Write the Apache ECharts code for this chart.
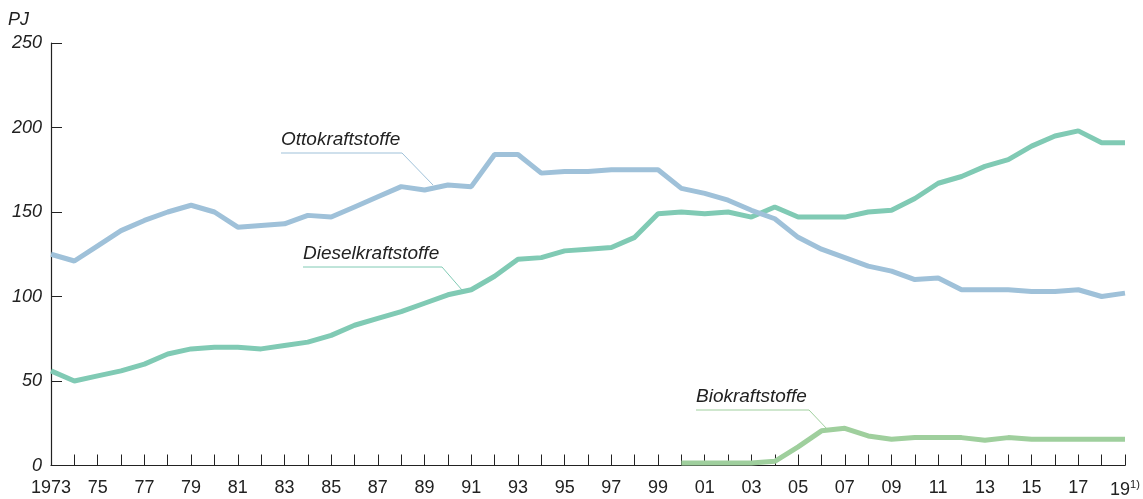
<!DOCTYPE html>
<html>
<head>
<meta charset="utf-8">
<script src="https://cdn.jsdelivr.net/npm/echarts@6/dist/echarts.min.js"></script>
<style>
  html, body { margin: 0; padding: 0; background: #fff; }
  #chart { width: 1143px; height: 499px; }
</style>
</head>
<body>
<div id="chart"></div>
<script>
// Kraftstoffverbrauch in PJ, 1973 - 2019
const years = [];
for (let y = 1973; y <= 2019; y++) years.push(String(y));

const otto = [125, 121, 130, 139, 145, 150, 154, 150, 141, 142,
  143, 148, 147, 153, 159, 165, 163, 166, 165, 184,
  184, 173, 174, 174, 175, 175, 175, 164, 161, 157,
  151, 146, 135, 128, 123, 118, 115, 110, 111, 104,
  104, 104, 103, 103, 104, 100, 102];

const diesel = [56, 50, 53, 56, 60, 66, 69, 70, 70, 69,
  71, 73, 77, 83, 87, 91, 96, 101, 104, 112,
  122, 123, 127, 128, 129, 135, 149, 150, 149, 150,
  147, 153, 147, 147, 147, 150, 151, 158, 167, 171,
  177, 181, 189, 195, 198, 191, 191];

const bio = [null, null, null, null, null, null, null, null, null, null,
  null, null, null, null, null, null, null, null, null, null,
  null, null, null, null, null, null, null, 1.5, 1.5, 1.5,
  1.5, 2.5, 11, 20.5, 22, 17.5, 15.5, 16.5, 16.5, 16.5,
  15, 16.5, 15.5, 15.5, 15.5, 15.5, 15.5];

const yTicks = [0, 50, 100, 150, 200, 250];

const FONT = '"Liberation Sans", Arial, sans-serif';
const TXT = '#222';

const chart = echarts.init(document.getElementById('chart'));

function note(text, x, y, x2, px, py, color) {
  return [
    {
      type: 'text', left: x, top: y - 12,
      style: { text: text, font: 'italic 19px ' + FONT, fill: TXT }
    },
    {
      type: 'polyline',
      shape: { points: [[x, y + 11], [x2, y + 11], [px, py]] },
      style: { stroke: color, lineWidth: 1, fill: null }
    }
  ];
}

const option = {
  animation: false,
  textStyle: { fontFamily: FONT },
  grid: { left: 51, right: 18, top: 43, bottom: 31, containLabel: false },
  xAxis: {
    type: 'category',
    boundaryGap: false,
    data: years,
    axisLine: { lineStyle: { color: TXT, width: 1.2 } },
    axisTick: { inside: true, length: 11, interval: 0, lineStyle: { color: TXT } },
    axisLabel: {
      interval: 1,
      margin: 14,
      fontSize: 18,
      color: TXT,
      formatter: function (v) {
        if (v === '1973') return v;
        if (v === '2019') return v.slice(2) + '{sup|1)}';
        return v.slice(2);
      },
      rich: {
        sup: { fontSize: 11, color: TXT, padding: [0, 0, 10, 0] }
      }
    },
    splitLine: { show: false }
  },
  yAxis: {
    type: 'value',
    min: 0,
    max: 250,
    interval: 50,
    name: 'PJ',
    nameLocation: 'end',
    nameGap: 14,
    nameTextStyle: { fontSize: 18, fontStyle: 'italic', color: TXT, align: 'right', padding: [0, 22, 0, 0] },
    axisLine: { show: true, lineStyle: { color: TXT, width: 1.2 } },
    axisTick: { show: true, inside: true, length: 11, lineStyle: { color: TXT } },
    axisLabel: {
      margin: 9,
      fontSize: 18,
      fontStyle: 'italic',
      color: TXT,
      customValues: yTicks
    },
    splitLine: { show: false }
  },
  series: [
    {
      name: 'Biokraftstoffe', type: 'line', data: bio,
      showSymbol: false, connectNulls: false,
      lineStyle: { width: 5, color: '#9fcf9d' }, z: 2
    },
    {
      name: 'Dieselkraftstoffe', type: 'line', data: diesel,
      showSymbol: false,
      lineStyle: { width: 5, color: '#80cab4' }, z: 3
    },
    {
      name: 'Ottokraftstoffe', type: 'line', data: otto,
      showSymbol: false,
      lineStyle: { width: 5, color: '#9fc1d9' }, z: 4
    }
  ],
  graphic: [].concat(
    note('Ottokraftstoffe', 281, 142, 402, 433, 185, '#9fc1d9'),
    note('Dieselkraftstoffe', 303, 256, 442, 462, 290, '#80cab4'),
    note('Biokraftstoffe', 696, 399, 809, 828, 430, '#9fcf9d')
  )
};

chart.setOption(option);
</script>
</body>
</html>
